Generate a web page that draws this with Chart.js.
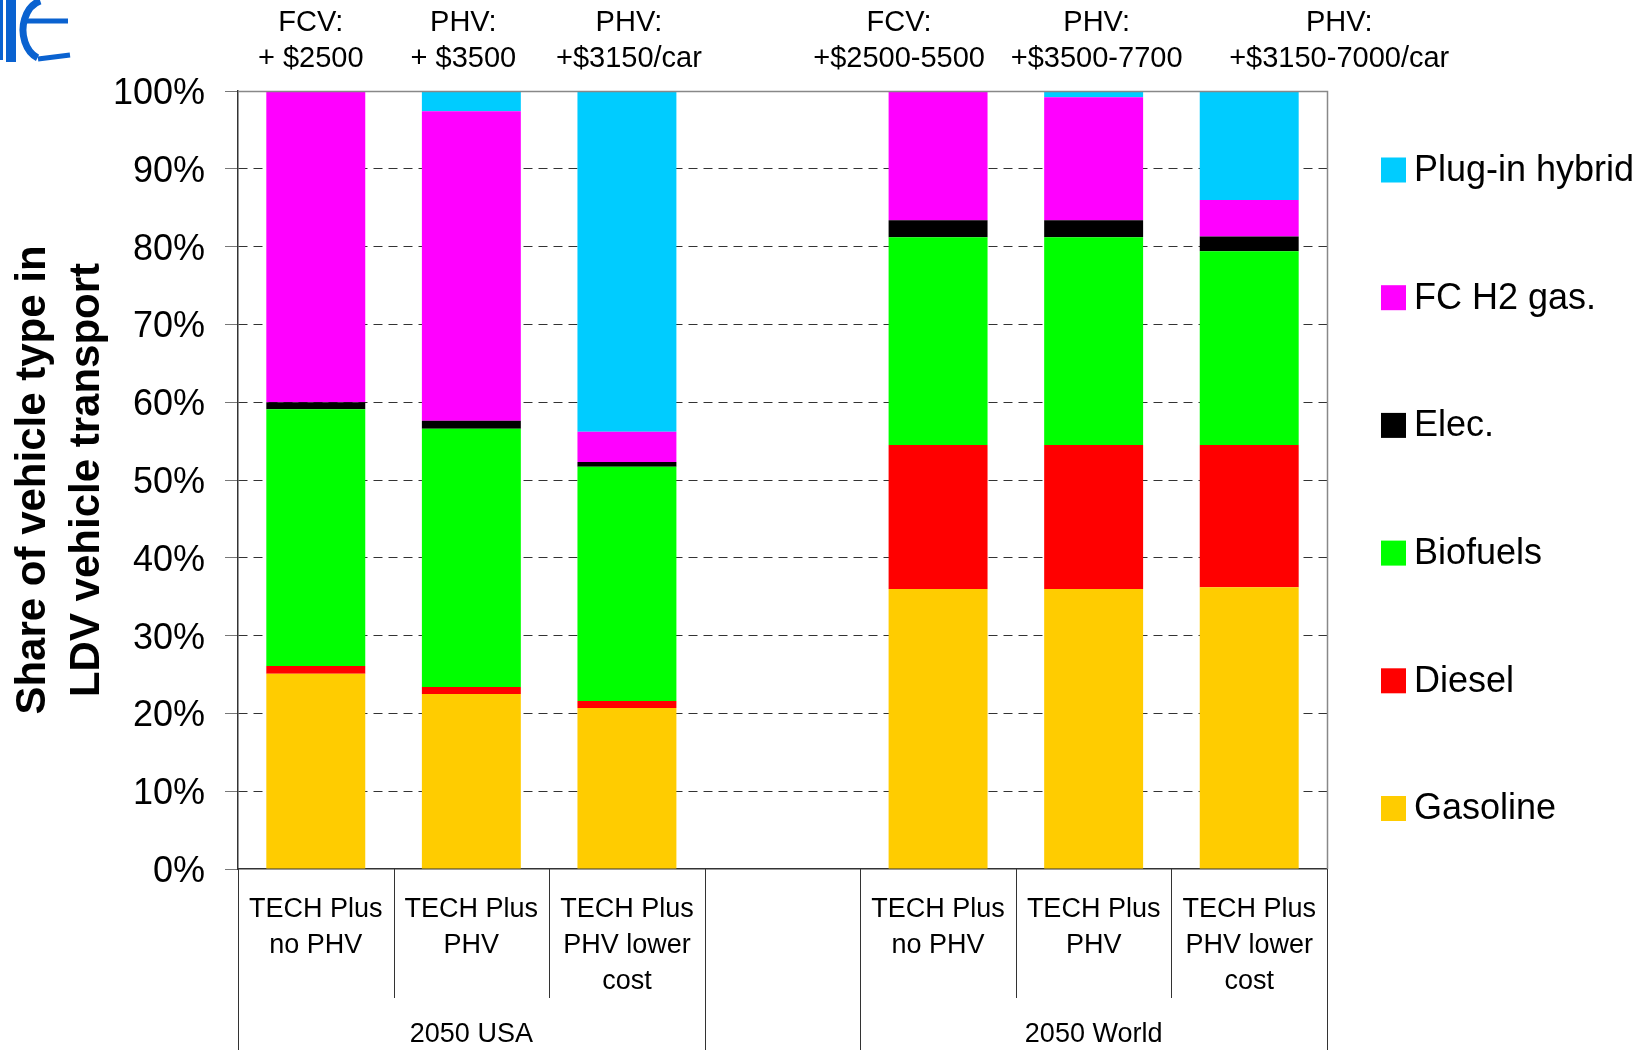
<!DOCTYPE html>
<html>
<head>
<meta charset="utf-8">
<script src="https://cdn.jsdelivr.net/npm/chart.js@4.4.1/dist/chart.umd.min.js"></script>
<style>
  html, body { margin: 0; padding: 0; background: #fff; }
  #wrap { width: 1649px; height: 1050px; }
</style>
</head>
<body>
<div id="wrap"><canvas id="chart" width="1649" height="1050"></canvas></div>
<script>
// Share of LDV vehicle types, 2050 — USA vs World scenarios (stacked to 100%)

const categories = [
  ['TECH Plus', 'no PHV'], ['TECH Plus', 'PHV'], ['TECH Plus', 'PHV lower', 'cost'],
  '',
  ['TECH Plus', 'no PHV'], ['TECH Plus', 'PHV'], ['TECH Plus', 'PHV lower', 'cost'],
];
const groups = [
  { label: '2050 USA', from: 0, to: 2 },
  { label: '2050 World', from: 4, to: 6 },
];
const costNotes = [
  ['FCV:', '+ $2500'], ['PHV:', '+ $3500'], ['PHV:', '+$3150/car'], null,
  ['FCV:', '+$2500-5500'], ['PHV:', '+$3500-7700'], ['PHV:', '+$3150-7000/car'],
];

// values in %, bottom of stack first
const gasoline = [25.1, 22.5, 20.7, null, 36.0, 36.0, 36.2];
const diesel   = [1.0, 0.9, 0.9, null, 18.5, 18.5, 18.3];
const biofuels = [33.0, 33.2, 30.1, null, 26.7, 26.7, 24.9];
const elec     = [0.9, 1.0, 0.6, null, 2.2, 2.2, 1.9];
const fcH2     = [40.0, 39.8, 3.9, null, 16.6, 15.8, 4.7];
const plugIn   = [0, 2.6, 43.8, null, 0, 0.8, 14.0];

const FONT = "'Liberation Sans', Arial, sans-serif";

const series = [
  { label: 'Gasoline', data: gasoline, color: '#ffcc00' },
  { label: 'Diesel', data: diesel, color: '#ff0000' },
  { label: 'Biofuels', data: biofuels, color: '#00ff00' },
  { label: 'Elec.', data: elec, color: '#000000' },
  { label: 'FC H2 gas.', data: fcH2, color: '#ff00ff' },
  { label: 'Plug-in hybrid', data: plugIn, color: '#00ccff' },
];

// layout-only tweaks for the cost notes (they sit a bit off-centre in the original)
const noteShift = [-5, -8, 2, 0, -39, 3, 90];

const extras = {
  id: 'extras',
  afterDatasetsDraw(chart) {
    const { ctx, chartArea: a, scales: { x } } = chart;
    ctx.save();

    // frame: top and right edge
    ctx.strokeStyle = '#888';
    ctx.lineWidth = 1.5;
    ctx.beginPath();
    ctx.moveTo(a.left, a.top + 0.5);
    ctx.lineTo(a.right + 0.5, a.top + 0.5);
    ctx.lineTo(a.right + 0.5, a.bottom);
    ctx.stroke();

    // category boundaries below the axis
    const n = categories.length;
    const bounds = [a.left];
    for (let i = 0; i < n - 1; i++) {
      bounds.push((x.getPixelForValue(i) + x.getPixelForValue(i + 1)) / 2);
    }
    bounds.push(a.right);
    const outer = new Set();
    groups.forEach(g => { outer.add(g.from); outer.add(g.to + 1); });
    ctx.strokeStyle = '#333';
    ctx.lineWidth = 1;
    bounds.forEach((bx, i) => {
      const px = Math.round(bx) + 0.5;
      ctx.beginPath();
      ctx.moveTo(px, a.bottom);
      ctx.lineTo(px, outer.has(i) ? chart.height : a.bottom + 129);
      ctx.stroke();
    });

    // group labels
    ctx.fillStyle = '#000';
    ctx.font = '27px ' + FONT;
    ctx.textAlign = 'center';
    ctx.textBaseline = 'middle';
    groups.forEach(g => {
      ctx.fillText(g.label, (bounds[g.from] + bounds[g.to + 1]) / 2, a.bottom + 166);
    });

    // cost notes above bars
    ctx.font = '29px ' + FONT;
    costNotes.forEach((note, i) => {
      if (!note) return;
      const cx = x.getPixelForValue(i) + noteShift[i];
      ctx.fillText(note[0], cx, a.top - 68);
      ctx.fillText(note[1], cx, a.top - 32);
    });

    // legend, top entry = top of stack
    ctx.font = '36px ' + FONT;
    ctx.textAlign = 'left';
    const ds = chart.data.datasets.slice().reverse();
    ds.forEach((d, i) => {
      const cy = a.top + 79 + i * 127.7;
      const lx = a.right + 54;
      ctx.fillStyle = d.backgroundColor;
      ctx.fillRect(lx, cy - 12.5, 25, 25);
      ctx.fillStyle = '#000';
      ctx.fillText(d.label, lx + 33, cy + 1);
    });

    // partial logo in the corner
    ctx.fillStyle = '#0a62d0';
    ctx.strokeStyle = '#0a62d0';
    ctx.fillRect(0, 0, 3, 60);
    ctx.fillRect(6, 0, 10, 62);
    ctx.lineWidth = 7;
    ctx.beginPath();
    ctx.ellipse(46, 30, 23, 30, 0, Math.PI * 0.62, Math.PI * 1.42);
    ctx.stroke();
    ctx.lineWidth = 5;
    ctx.beginPath();
    ctx.moveTo(22, 21); ctx.lineTo(68, 21);
    ctx.stroke();
    ctx.beginPath();
    ctx.moveTo(38, 59); ctx.lineTo(70, 55);
    ctx.stroke();

    ctx.restore();
  },
};

new Chart(document.getElementById('chart'), {
  type: 'bar',
  data: {
    labels: categories,
    datasets: series.map(s => ({
      label: s.label,
      data: s.data,
      backgroundColor: s.color,
      borderWidth: 0,
      barPercentage: 0.636,
      categoryPercentage: 1,
    })),
  },
  options: {
    responsive: false,
    animation: false,
    devicePixelRatio: 1,
    layout: { padding: { top: 91, right: 322, bottom: 0, left: 0 } },
    plugins: {
      legend: { display: false },
      tooltip: { enabled: false },
    },
    scales: {
      x: {
        stacked: true,
        offset: true,
        grid: { display: false, drawTicks: false },
        border: { display: true, color: '#333', width: 1.5 },
        ticks: {
          autoSkip: false, maxRotation: 0, padding: 23, color: '#000',
          font: { family: FONT, size: 27, lineHeight: 1.33 },
        },
        afterFit(s) { s.height = 181; },
      },
      y: {
        stacked: true,
        min: 0,
        max: 100,
        ticks: {
          stepSize: 10, padding: 20, color: '#000', labelOffset: 3,
          callback: v => v + '%',
          font: { family: FONT, size: 36 },
        },
        grid: {
          color: c => (c.tick && (c.tick.value === 100 || c.tick.value === 0)) ? 'rgba(0,0,0,0)' : '#333',
          lineWidth: 1,
          tickLength: 13,
          tickColor: '#777',
        },
        border: { display: true, color: '#333', width: 1.5, dash: [9, 6] },
        title: {
          display: true,
          text: ['Share of vehicle type in', 'LDV vehicle transport'],
          color: '#000',
          font: { family: FONT, size: 42, weight: 'bold', lineHeight: 1.3 },
          padding: { top: 6, bottom: 0 },
        },
        afterFit(s) { s.width = 238; },
      },
    },
  },
  plugins: [extras],
});
</script>
</body>
</html>
